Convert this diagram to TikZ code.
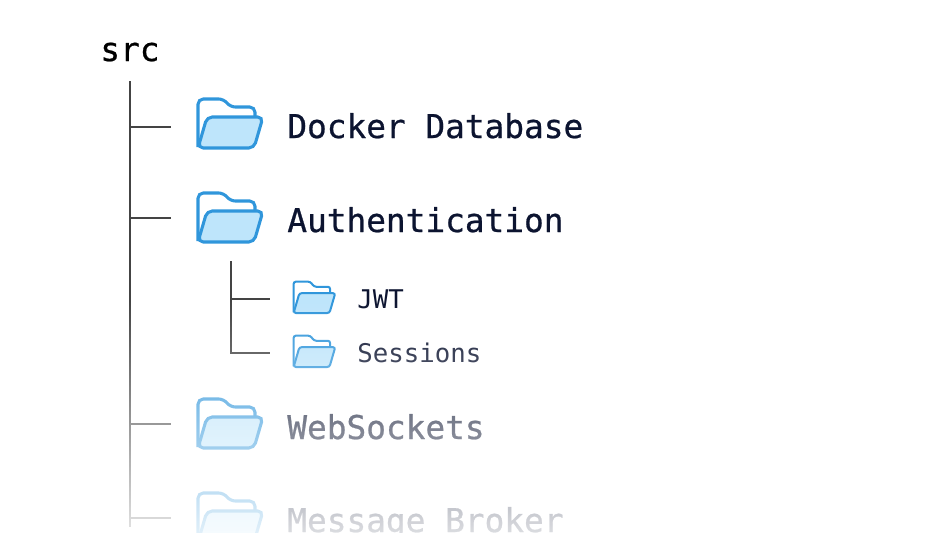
\documentclass[tikz,border=0pt]{standalone}
\usepackage{fontspec}
\newfontfamily\bigmono[RawFeature={embolden=0.7}]{DejaVu Sans Mono}
\newfontfamily\smallmono{DejaVu Sans Mono}
\usetikzlibrary{fadings}
\definecolor{foldline}{HTML}{3096DB}
\definecolor{foldfill}{HTML}{BEE5FB}
\definecolor{navy}{HTML}{0C1430}
\definecolor{stem}{HTML}{444444}
\tikzfading[name=fadedown, top color=transparent!100, bottom color=transparent!10]
\tikzset{
  folder/.pic={
    \draw[foldline] (1,49) -- (1,1) -- (27,1) -- (33,9) -- (58,9) -- (58,19);
    \filldraw[draw=foldline, fill=foldfill] (10,19) -- (66,19) -- (57,50) -- (1,50) -- cycle;
  }
}
\begin{document}
\begin{tikzpicture}[
  x=0.02cm, y=-0.02cm,
  bigfold/.style={line width=1.75pt, rounded corners=3pt},
  smallfold/.style={scale=0.64, line width=1.15pt, rounded corners=1.3pt},
  stemline/.style={draw=stem, line width=1.25pt},
  big/.style={anchor=base west, inner sep=0pt, text=navy,
    font=\bigmono\fontsize{18.65pt}{22pt}\selectfont},
  small/.style={anchor=base west, inner sep=0pt, text=navy,
    font=\smallmono\fontsize{14.65pt}{18pt}\selectfont}
]
\useasboundingbox (0,0) rectangle (946,532);
\clip (0,0) rectangle (946,532);
% labels
\node[big, text=black] (src) at (100,61) {src};
\node[big] (docker) at (287,138) {Docker Database};
\node[big] (auth) at (287,232) {Authentication};
\node[small] (jwt) at (357,308) {JWT};
\node[small] (sessions) at (357,362) {Sessions};
\node[big] (websockets) at (287,439) {WebSockets};
\node[big] (broker) at (287,532) {Message Broker};
% folders
\pic[bigfold] at (197,98) {folder};
\pic[bigfold] at (197,192) {folder};
\pic[smallfold] at (293,281) {folder};
\pic[smallfold] at (293,335) {folder};
\pic[bigfold] at (197,398) {folder};
\pic[bigfold] at (197,492) {folder};
% main stem
\coordinate (top) at (130,81);
\coordinate (bottom) at (130,527);
\coordinate (j1) at (130,127);
\coordinate (e1) at (171,127);
\coordinate (j2) at (130,218);
\coordinate (e2) at (171,218);
\coordinate (j3) at (130,424);
\coordinate (e3) at (171,424);
\coordinate (j4) at (130,518);
\coordinate (e4) at (171,518);
\draw[stemline] (top) -- (bottom);
\draw[stemline] (j1) -- (e1);
\draw[stemline] (j2) -- (e2);
\draw[stemline] (j3) -- (e3);
\draw[stemline] (j4) -- (e4);
% sub stem
\coordinate (subtop) at (231,261);
\coordinate (subj) at (231,299);
\coordinate (sube1) at (270,299);
\coordinate (subbottom) at (231,353);
\coordinate (sube2) at (270,353);
\draw[stemline] (subtop) -- (subbottom) -- (sube2);
\draw[stemline] (subj) -- (sube1);
% fade towards the bottom
\fill[white, path fading=fadedown] (-5,300) rectangle (950,545);
\end{tikzpicture}
\end{document}
